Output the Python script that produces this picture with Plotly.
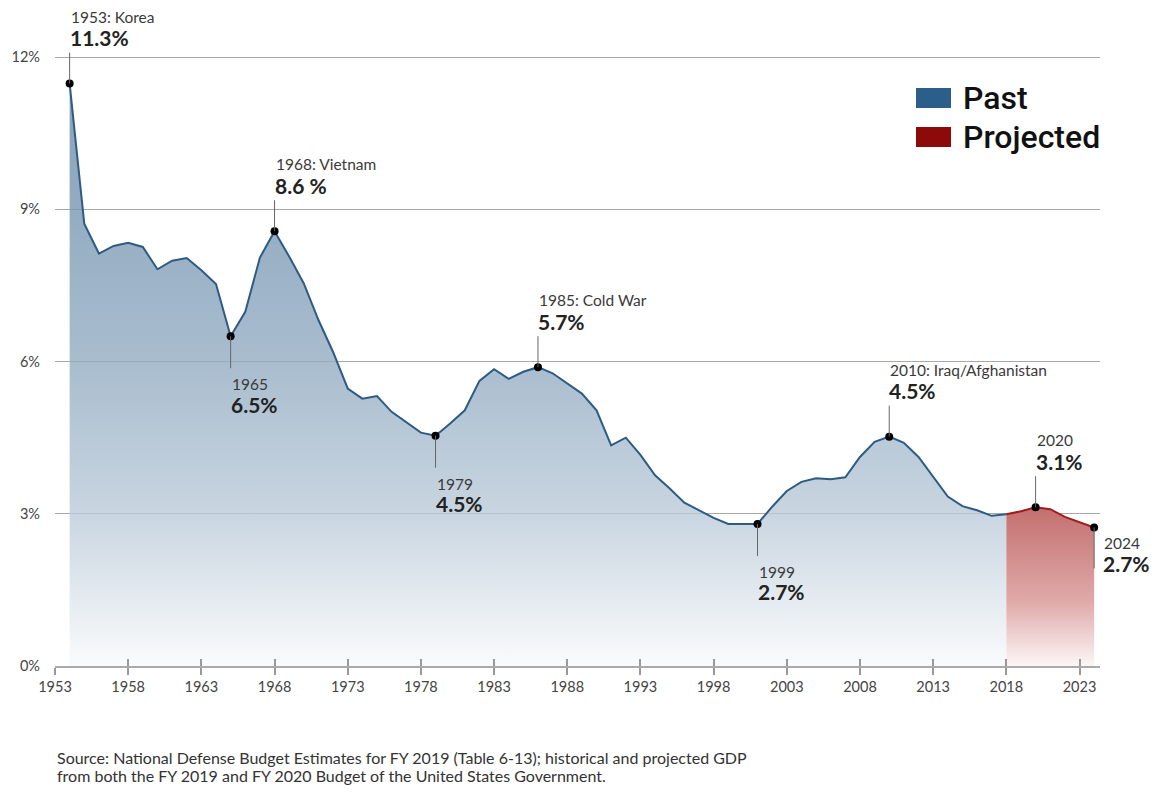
import plotly.graph_objects as go

# ---------------- data ----------------
past_years = list(range(1954, 2019))
past_values = [
    11.48, 8.72, 8.13, 8.28, 8.34, 8.26, 7.82, 7.99, 8.04, 7.80,   # 1954-1963
    7.53, 6.50, 6.98, 8.05, 8.57, 8.07, 7.54, 6.82, 6.19, 5.47,    # 1964-1973
    5.27, 5.32, 5.01, 4.81, 4.60, 4.54, 4.78, 5.04, 5.62, 5.85,    # 1974-1983
    5.66, 5.80, 5.89, 5.77, 5.57, 5.37, 5.04, 4.35, 4.50, 4.16,    # 1984-1993
    3.76, 3.50, 3.22, 3.07, 2.92, 2.80, 2.80, 2.80, 3.14, 3.45,    # 1994-2003
    3.63, 3.70, 3.68, 3.72, 4.12, 4.42, 4.52, 4.40, 4.12, 3.73,    # 2004-2013
    3.34, 3.15, 3.07, 2.96, 2.99,                                  # 2014-2018
]
proj_years = [2018, 2019, 2020, 2021, 2022, 2023, 2024]
proj_values = [2.99, 3.05, 3.13, 3.09, 2.94, 2.83, 2.73]

ann_years = [1954, 1968, 1965, 1979, 1986, 2001, 2010, 2020, 2024]
ann_titles = ["1953: Korea", "1968: Vietnam", "1965", "1979", "1985: Cold War",
              "1999", "2010: Iraq/Afghanistan", "2020", "2024"]
ann_values = ["11.3%", "8.6 %", "6.5%", "4.5%", "5.7%", "2.7%", "4.5%", "3.1%", "2.7%"]
ann_dirs = ["up", "up", "down", "down", "up", "down", "up", "up", "right"]

x_tick_years = list(range(1953, 2024, 5))
y_ticks = [0, 3, 6, 9, 12]
y_tick_labels = ["0%", "3%", "6%", "9%", "12%"]

legend_labels = ["Past", "Projected"]
source_lines = [
    "Source: National Defense Budget Estimates for FY 2019 (Table 6-13); historical and projected GDP",
    "from both the FY 2019 and FY 2020 Budget of the United States Government.",
]

# ---------------- styling ----------------
BLUE_LINE = "#2d5b84"
RED_LINE = "#a11c1c"
BLUE_SWATCH = "#2b5e8b"
RED_SWATCH = "#8c0a0a"
FONT = "Lato"

W, H = 1154, 794
M_L, M_R, M_T, M_B = 55, 54, 9, 128
PW, PH = W - M_L - M_R, H - M_T - M_B
Y_MAX = 12.95
px_per_unit = PH / Y_MAX


def px_to_paper_y(py):
    return 1 - (py - M_T) / PH


def px_to_paper_x(px):
    return (px - M_L) / PW


lookup = dict(zip(past_years, past_values))
lookup.update(dict(zip(proj_years, proj_values)))

fig = go.Figure()

fig.add_trace(go.Scatter(
    x=past_years, y=past_values, mode="lines", fill="tozeroy",
    line=dict(color=BLUE_LINE, width=2),
    fillgradient=dict(type="vertical", start=0, stop=12,
                      colorscale=[[0, "rgba(249,250,251,0.8)"], [0.25, "rgba(187,203,217,0.8)"],
                                  [0.5, "rgba(147,172,194,0.8)"], [0.75, "rgba(121,151,179,0.8)"],
                                  [1, "rgba(104,137,169,0.8)"]]),
    hoverinfo="skip", showlegend=False,
))
fig.add_trace(go.Scatter(
    x=proj_years, y=proj_values, mode="lines", fill="tozeroy",
    line=dict(color=RED_LINE, width=2),
    fillgradient=dict(type="vertical", start=0, stop=3.15,
                      colorscale=[[0, "rgba(252,246,246,1)"], [0.4, "#e0aaa9"],
                                  [1, "#c26f6e"]]),
    hoverinfo="skip", showlegend=False,
))

# leader lines
for yr, d in zip(ann_years, ann_dirs):
    v = lookup[yr]
    if d == "up":
        y1 = v + 31 / px_per_unit
    elif d == "down":
        y1 = v - 32 / px_per_unit
    else:
        y1 = v - 41 / px_per_unit
    fig.add_shape(type="line", xref="x", yref="y", x0=yr, x1=yr, y0=v, y1=y1,
                  line=dict(color="#666", width=1), layer="above")

# dots
fig.add_trace(go.Scatter(
    x=ann_years, y=[lookup[y] for y in ann_years], mode="markers",
    marker=dict(color="black", size=8), hoverinfo="skip", showlegend=False,
))

# invisible trace for overlay axis (crossing ticks)
fig.add_trace(go.Scatter(x=[x_tick_years[0]], y=[0], xaxis="x2", mode="markers",
                         marker=dict(opacity=0), hoverinfo="skip", showlegend=False))

# annotations
for yr, t, val, d in zip(ann_years, ann_titles, ann_values, ann_dirs):
    v = lookup[yr]
    if d == "up":
        ts, vs, xs = 67, 46, 0
    elif d == "down":
        ts, vs, xs = -48, -68, 0
    else:
        ts, vs, xs = -15, -36, 9
    fig.add_annotation(x=yr, y=v, xref="x", yref="y", text=t, showarrow=False,
                       xanchor="left", yanchor="middle", xshift=xs - 1, yshift=ts,
                       font=dict(family=FONT, size=15.5, color="#3a3a3a"))
    fig.add_annotation(x=yr, y=v, xref="x", yref="y", text=val, showarrow=False,
                       xanchor="left", yanchor="middle", xshift=xs - 2, yshift=vs,
                       font=dict(family=FONT, size=21, color="#222", weight=700))

# legend (custom)
swatch_colors = [BLUE_SWATCH, RED_SWATCH]
for i, (lab, col) in enumerate(zip(legend_labels, swatch_colors)):
    yc = 98 + i * 39
    fig.add_shape(type="rect", xref="paper", yref="paper",
                  x0=px_to_paper_x(916), x1=px_to_paper_x(951),
                  y0=px_to_paper_y(yc - 10), y1=px_to_paper_y(yc + 10),
                  fillcolor=col, line=dict(width=0))
    fig.add_annotation(xref="paper", yref="paper", x=px_to_paper_x(961), y=px_to_paper_y(yc),
                       text=lab, showarrow=False, xanchor="left", yanchor="middle",
                       font=dict(family="Roboto", size=32, color="#111", weight=500))

# source
for i, line in enumerate(source_lines):
    fig.add_annotation(xref="paper", yref="paper", x=0, y=px_to_paper_y(757 + 18 * i),
                       text=line, showarrow=False, xanchor="left", yanchor="middle",
                       align="left", font=dict(family=FONT, size=16, color="#333"))

x_range = [1953, 2024.4]
fig.update_layout(
    width=W, height=H, margin=dict(l=M_L, r=M_R, t=M_T, b=M_B),
    paper_bgcolor="white", plot_bgcolor="white",
    font=dict(family=FONT, color="#444"),
    xaxis=dict(range=x_range, tickvals=x_tick_years, ticktext=[str(y) for y in x_tick_years],
               ticks="outside", ticklen=7, tickwidth=1.5, tickcolor="#999",
               showline=True, linecolor="#aaa", linewidth=1.5, showgrid=False, zeroline=False,
               tickfont=dict(family=FONT, size=14.5, color="#444")),
    xaxis2=dict(range=x_range, overlaying="x", anchor="y", side="bottom",
                tickvals=x_tick_years, ticks="inside", ticklen=7, tickwidth=1.5, tickcolor="#999",
                showticklabels=False, showgrid=False, zeroline=False, showline=False),
    yaxis=dict(range=[0, Y_MAX], tickvals=y_ticks, ticktext=y_tick_labels,
               showgrid=True, gridcolor="#a9a9a9", gridwidth=1, zeroline=False,
               ticks="", ticklabelstandoff=14,
               tickfont=dict(family=FONT, size=14.5, color="#444")),
    showlegend=False,
)

fig.write_html("out.html")
